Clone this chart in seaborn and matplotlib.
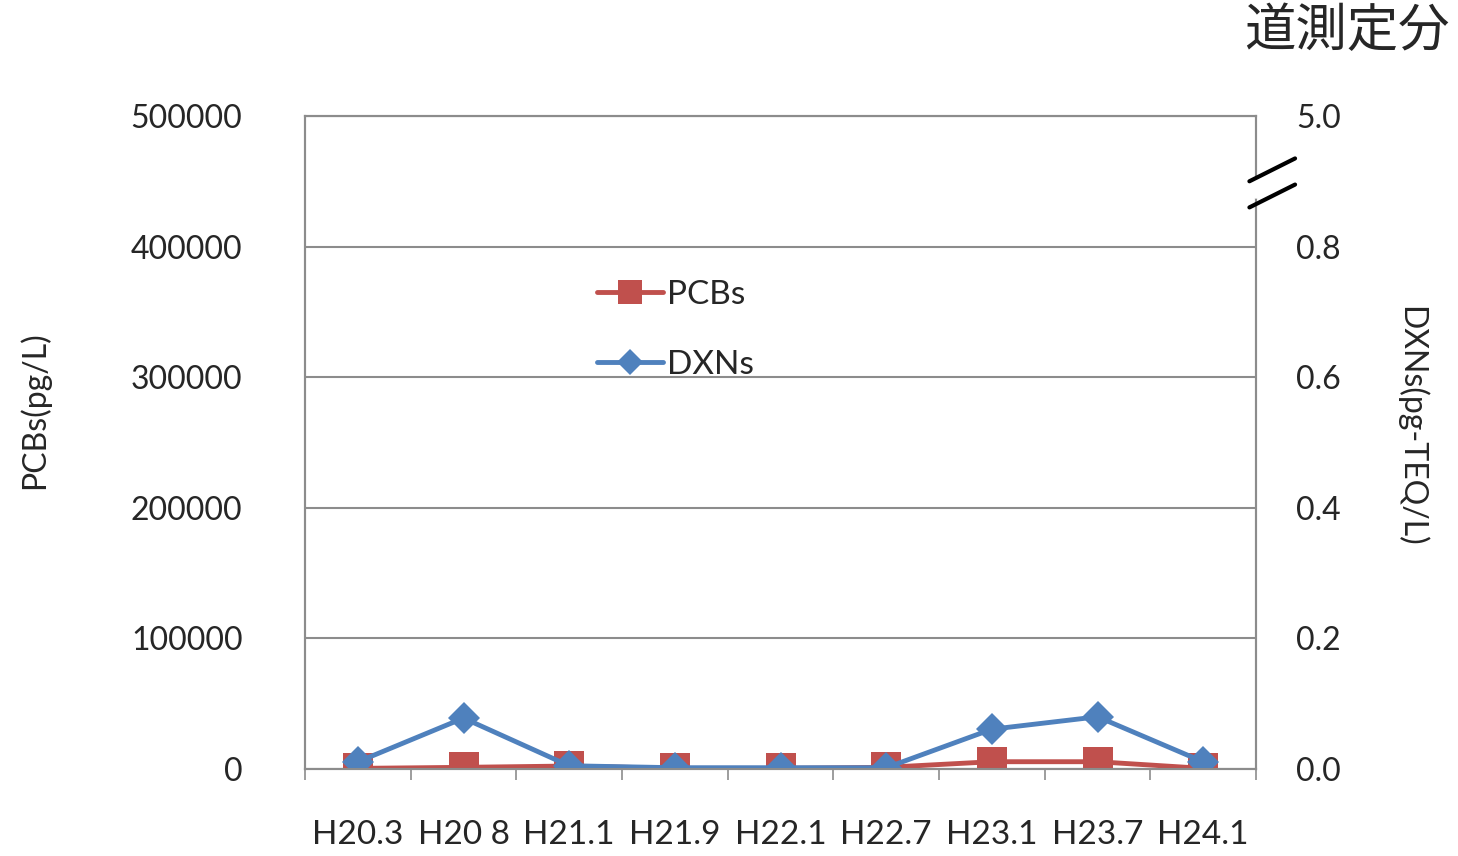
import matplotlib
matplotlib.use("Agg")
import matplotlib.pyplot as plt
import seaborn as sns
import numpy as np
import pandas as pd

categories = ["H20.3", "H20 8", "H21.1", "H21.9", "H22.1", "H22.7", "H23.1", "H23.7", "H24.1"]
pcbs = [500, 1300, 2300, 500, 500, 1300, 5600, 5600, 500]
dxns = [0.011, 0.078, 0.005, 0.002, 0.002, 0.002, 0.061, 0.080, 0.011]
left_ticks = [0, 100000, 200000, 300000, 400000, 500000]
right_ticks = [0.0, 0.2, 0.4, 0.6, 0.8, 1.0]
right_labels = ["0.0", "0.2", "0.4", "0.6", "0.8", "5.0"]
title = "道測定分"

sns.set_theme(style="white")
plt.rcParams['font.family'] = ['Lato', 'Noto Sans CJK JP', 'DejaVu Sans']

red = "#C0504D"
blue = "#4F81BD"
grey = "#8C8C8C"

fig = plt.figure(figsize=(14.58, 8.56), dpi=100)
ax = fig.add_axes([0.2092, 0.1016, 0.6523, 0.7629])

pos = np.arange(len(categories)) + 0.5
df = pd.DataFrame({"pos": pos, "PCBs": pcbs, "DXNs": dxns})

sns.lineplot(data=df, x="pos", y="PCBs", ax=ax, color=red, linewidth=3.5,
             marker="s", markersize=21, markeredgecolor=red, markeredgewidth=0,
             sort=False, legend=False)
ax.set_ylim(0, 500000)
ax.set_xlim(0, len(categories))
ax.set_yticks(left_ticks)
ax.set_yticklabels([str(v) for v in left_ticks])
ax.yaxis.grid(True, color=grey, linewidth=1.5)
ax.set_axisbelow(True)
ax.set_xticks(np.arange(len(categories) + 1))
ax.set_xticklabels([])
ax.set_xticks(pos, minor=True)
ax.set_xticklabels(categories, minor=True)
ax.tick_params(axis="x", which="major", direction="out", length=8, width=1.2, color=grey, bottom=True)
ax.tick_params(axis="x", which="minor", length=0, pad=37, labelsize=24)
ax.tick_params(axis="y", length=0, pad=45, labelsize=23)
ax.set_xlabel("")
ax.set_ylabel("PCBs(pg/L)", fontsize=23)
ax.yaxis.set_label_coords(-0.268, 0.55)
for s in ax.spines.values():
    s.set_color(grey)
    s.set_linewidth(1.5)

ax2 = ax.twinx()
sns.lineplot(data=df, x="pos", y="DXNs", ax=ax2, color=blue, linewidth=3.5,
             marker="D", markersize=16, markeredgecolor=blue, markeredgewidth=0,
             sort=False, legend=False)
ax2.set_ylim(0, 1.0)
ax2.set_yticks(right_ticks)
ax2.set_yticklabels(right_labels)
ax2.tick_params(axis="y", length=0, pad=29, labelsize=23)
ax2.set_ylabel("DXNs(pg-TEQ/L)", fontsize=23, rotation=-90)
ax2.yaxis.set_label_coords(1.179, 0.525)
for s in ax2.spines.values():
    s.set_color(grey)
    s.set_linewidth(1.5)

# axis break marks on right spine
ax2.plot([1.0, 1.0], [0.877, 0.9], transform=ax2.transAxes, color="white", linewidth=4,
         clip_on=False, zorder=5)
ax2.plot([0.993, 1.041], [0.9, 0.935], transform=ax2.transAxes, color="black", linewidth=3,
         clip_on=False, zorder=6)
ax2.plot([0.993, 1.041], [0.86, 0.895], transform=ax2.transAxes, color="black", linewidth=3,
         clip_on=False, zorder=6)

h1 = ax.get_lines()[0]
h2 = ax2.get_lines()[0]
leg = ax2.legend([h1, h2], ["PCBs", "DXNs"], loc="upper left",
                 bbox_to_anchor=(0.275, 0.795), frameon=False, fontsize=24,
                 handlelength=2.0, handletextpad=0.1, labelspacing=1.2,
                 markerscale=0.8)

fig.text(0.994, 0.963, title, ha="right", va="center", fontsize=37,
         family=['Noto Sans CJK JP', 'DejaVu Sans'])

fig.savefig("out.png", dpi=100)
